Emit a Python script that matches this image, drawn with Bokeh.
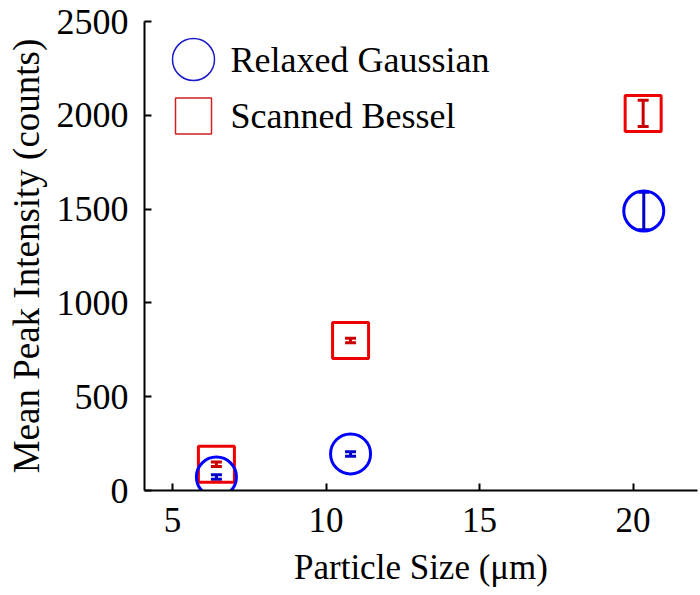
from bokeh.plotting import figure
from bokeh.models import (ColumnDataSource, Whisker, TeeHead, FixedTicker, Range1d)
from bokeh.core.properties import value
from bokeh.embed import file_html
from bokeh.resources import INLINE

# ---- data ----
size_gauss = [6.43, 10.8, 20.35]
peak_gauss = [72, 195, 1490]
err_gauss = [12, 12, 100]

size_bessel = [6.43, 10.8, 20.33]
peak_bessel = [140, 800, 2010]
err_bessel = [12, 12, 70]

x_ticks = [5, 10, 15, 20]
y_ticks = [0, 500, 1000, 1500, 2000, 2500]

series_labels = ["Relaxed Gaussian", "Scanned Bessel"]

FONT = "Liberation Serif"
BLUE = "#0000ff"
RED = "#ee0000"

FW, FH = 553, 469
p = figure(frame_width=FW, frame_height=FH,
           x_range=Range1d(4.088, 22.10), y_range=Range1d(0, 2500),
           output_backend="svg", toolbar_location=None,
           min_border_left=144, min_border_top=21, min_border_right=3,
           min_border_bottom=105)
p.outline_line_color = None
p.xgrid.visible = False
p.ygrid.visible = False
p.background_fill_color = "white"

for ax in (p.xaxis[0], p.yaxis[0]):
    ax.axis_line_width = 2
    ax.axis_line_color = "black"
    ax.major_tick_line_width = 2
    ax.major_tick_in = 7
    ax.major_tick_out = 0
    ax.minor_tick_in = 0
    ax.minor_tick_out = 0
    ax.major_label_text_font = FONT
    ax.major_label_text_color = "black"
    ax.axis_label_text_font = FONT
    ax.axis_label_text_font_style = "normal"
    ax.axis_label_text_color = "black"

p.xaxis.major_label_text_font_size = "35px"
p.xaxis.axis_label_text_font_size = "35px"
p.yaxis.major_label_text_font_size = "36px"
p.yaxis.axis_label_text_font_size = "37px"

p.xaxis.ticker = FixedTicker(ticks=x_ticks)
p.yaxis.ticker = FixedTicker(ticks=y_ticks)
p.xaxis.axis_label = "Particle Size (\u03bcm)"
p.yaxis.axis_label = "Mean Peak Intensity (counts)"
p.xaxis.major_label_standoff = 17
p.yaxis.major_label_standoff = 16
p.xaxis.axis_label_standoff = 13
p.yaxis.axis_label_standoff = 7

src_g = ColumnDataSource(dict(x=size_gauss, y=peak_gauss,
                              lo=[v - e for v, e in zip(peak_gauss, err_gauss)],
                              hi=[v + e for v, e in zip(peak_gauss, err_gauss)]))
src_b = ColumnDataSource(dict(x=size_bessel, y=peak_bessel,
                              lo=[v - e for v, e in zip(peak_bessel, err_bessel)],
                              hi=[v + e for v, e in zip(peak_bessel, err_bessel)]))

p.scatter("x", "y", source=src_b, marker="square", size=36, line_width=3,
          line_color=RED, fill_color=None)
p.scatter("x", "y", source=src_g, marker="circle", size=40, line_width=3,
          line_color=BLUE, fill_color=None)

for src, col in ((src_b, "#cc0000"), (src_g, "#0000cc")):
    w = Whisker(source=src, base="x", lower="lo", upper="hi", dimension="height",
                line_color=col, line_width=3,
                upper_head=TeeHead(size=11, line_color=col, line_width=3),
                lower_head=TeeHead(size=11, line_color=col, line_width=3))
    p.add_layout(w)

# ---- legend, drawn in frame-pixel coordinates ----
p.extra_x_ranges = {"lx": Range1d(0, FW)}
p.extra_y_ranges = {"ly": Range1d(0, FH)}
p.scatter(x=[49], y=[431], marker="circle", size=42, line_width=1.5,
          line_color="#1a1ac8", fill_color=None, x_range_name="lx", y_range_name="ly")
p.scatter(x=[49], y=[374.5], marker="square", size=36, line_width=1.5,
          line_color="#d02020", fill_color=None, x_range_name="lx", y_range_name="ly")
p.text(x=[86, 86], y=[431, 374.5], text=series_labels, text_font=value(FONT),
       text_font_size="36px", text_baseline="middle", text_align="left",
       text_color="black", x_range_name="lx", y_range_name="ly")

open("out.html", "w").write(file_html(p, INLINE))
